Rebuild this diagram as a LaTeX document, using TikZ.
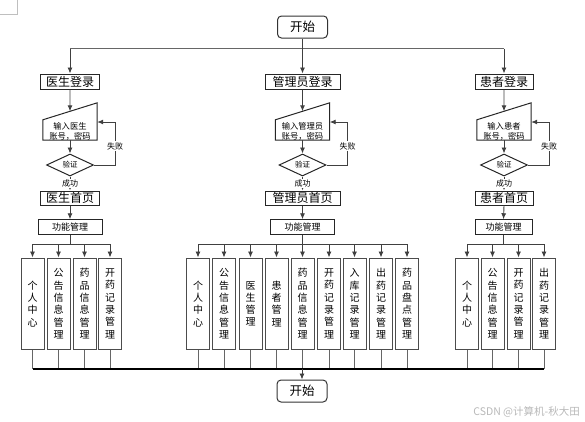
\documentclass[tikz,border=0pt]{standalone}
\usepackage{fontspec}
\setmainfont{Noto Sans CJK SC}
\usetikzlibrary{arrows.meta,calc,shapes.geometric}
\begin{document}
\begin{tikzpicture}[x=1pt,y=-1pt,
  ln/.style={draw=black!75, line width=0.9pt},
  arr/.style={ln, -{Latex[length=6pt,width=5pt]}},
  term/.style={draw=black!80, line width=1pt, rounded corners=4pt, minimum width=50pt, minimum height=22pt, inner sep=0pt, font=\fontsize{12.5}{12.5}\selectfont},
  hbox/.style={draw=black!85, line width=1pt, fill=white, minimum height=15pt, inner sep=0pt, font=\fontsize{12}{12}\selectfont},
  fbox/.style={draw=black!85, line width=1pt, fill=white, minimum height=14.5pt, inner sep=0pt, font=\fontsize{9}{9}\selectfont},
  inp/.style={minimum width=54pt, minimum height=37pt, inner sep=0pt},
  inpshape/.style={draw=black!85, line width=1pt},
  inptext/.style={align=center, inner sep=0pt, font=\fontsize{8.3}{10}\selectfont},
  dia/.style={diamond, draw=black!85, line width=1pt, minimum width=47pt, minimum height=22pt, aspect=2.1, inner sep=0pt, font=\fontsize{7.5}{7.5}\selectfont},
  lbl/.style={fill=white, inner sep=1pt, font=\fontsize{8}{8}\selectfont},
  col/.style={draw=black!70, line width=1pt, fill=white, minimum width=23pt, minimum height=91.5pt, inner sep=0pt, align=center, font=\fontsize{10}{12.3}\selectfont},
]
\useasboundingbox (0,0) rectangle (585,421);
\draw[black!25, line width=0.6pt] (17,0) -- (17,14) -- (0,14);

% start
\node[term] (start) at (302.5,27) {开始};

% login boxes
\node[hbox, minimum width=59pt] (lD) at (70,81.5) {医生登录};
\node[hbox, minimum width=75pt] (lM) at (302.5,81.5) {管理员登录};
\node[hbox, minimum width=58pt] (lP) at (504,81.5) {患者登录};

\coordinate (jt) at (302.5,48.5);
\draw[draw=black!60, line width=1.2pt] (lD.north |- jt) -- (lP.north |- jt);
\draw[arr] (start.south) -- (lM.north);
\draw[arr] (lD.north |- jt) -- (lD.north);
\draw[arr] (lP.north |- jt) -- (lP.north);

% input shapes
\foreach \g/\x/\t in {D/70/{输入医生\\账号，密码}, M/302.5/{输入管理员\\账号，密码}, P/504/{输入患者\\账号，密码}}{
  \node[inp] (in\g) at (\x,121.5) {};
  \draw[inpshape] (in\g.south west) -- (in\g.south east) -- (in\g.north east) -- ($(in\g.north west)+(0,17)$) -- cycle;
  \node[inptext] (in\g t) at (\x,131) {\t};
  \coordinate (in\g top) at ($(in\g.north east)!0.5!($(in\g.north west)+(0,17)$)$);
  \node[dia] (d\g) at (\x,165) {验证};
}
\draw[arr] (lD.south) -- (inDtop);
\draw[arr] (lM.south) -- (inMtop);
\draw[arr] (lP.south) -- (inPtop);
\draw[arr] (inD.south) -- (dD.north);
\draw[arr] (inM.south) -- (dM.north);
\draw[arr] (inP.south) -- (dP.north);

% feedback loops
\foreach \g in {D,M,P}{
  \coordinate (fb\g) at ($(in\g.east)+(18,0.5)$);
  \draw[arr] (d\g.east) -| node[lbl, pos=0.72] {失败} (fb\g) -- (fb\g -| in\g.east);
}

% home boxes
\node[hbox, minimum width=59pt, minimum height=14pt] (hD) at (70,198) {医生首页};
\node[hbox, minimum width=75pt, minimum height=14pt] (hM) at (302.5,198) {管理员首页};
\node[hbox, minimum width=58pt, minimum height=14pt] (hP) at (504,198) {患者首页};
\draw[arr] (dD.south) -- node[lbl] {成功} (hD.north);
\draw[arr] (dM.south) -- node[lbl] {成功} (hM.north);
\draw[arr] (dP.south) -- node[lbl] {成功} (hP.north);

% function management
\node[fbox, minimum width=64pt] (fD) at (70,227) {功能管理};
\node[fbox, minimum width=64pt] (fM) at (302.5,227) {功能管理};
\node[fbox, minimum width=57pt] (fP) at (503.5,227) {功能管理};
\draw[arr] (hD.south) -- (fD.north);
\draw[arr] (hM.south) -- (fM.north);
\draw[arr] (hP.south) -- (fP.north);

% columns
\foreach \x/\t [count=\i] in {32.5/{个\\人\\中\\心}, 58.5/{公\\告\\信\\息\\管\\理}, 84.5/{药\\品\\信\\息\\管\\理}, 110/{开\\药\\记\\录\\管\\理}}{
  \node[col] (cD\i) at (\x,303.75) {\t};
}
\foreach \x/\t [count=\i] in {198/{个\\人\\中\\心}, 224/{公\\告\\信\\息\\管\\理}, 250.5/{医\\生\\管\\理}, 276.5/{患\\者\\管\\理}, 302.5/{药\\品\\信\\息\\管\\理}, 329/{开\\药\\记\\录\\管\\理}, 354.5/{入\\库\\记\\录\\管\\理}, 381/{出\\药\\记\\录\\管\\理}, 407/{药\\品\\盘\\点\\管\\理}}{
  \node[col] (cM\i) at (\x,303.75) {\t};
}
\foreach \x/\t [count=\i] in {467/{个\\人\\中\\心}, 492.5/{公\\告\\信\\息\\管\\理}, 518.5/{开\\药\\记\\录\\管\\理}, 544/{出\\药\\记\\录\\管\\理}}{
  \node[col] (cP\i) at (\x,303.75) {\t};
}

\coordinate (br) at (0,244);
\coordinate (bot) at (0,369);
\foreach \g/\n in {D/4, M/9, P/4}{
  \draw[ln] (f\g.south) -- (f\g.south |- br);
  \draw[ln] (c\g1.north |- br) -- (c\g\n.north |- br);
  \foreach \i in {1,...,\n}{
    \draw[arr] (c\g\i.north |- br) -- (c\g\i.north);
    \draw[draw=black!60, line width=0.9pt] (c\g\i.south) -- (c\g\i.south |- bot);
  }
}
\draw[black, line width=1.5pt] (cD1.south |- bot) -- (cP4.south |- bot);

% end
\node[term] (end) at (302,391) {开始};
\draw[arr] (end.north |- bot) -- (end.north);

% watermark
\node[anchor=east, text=black!28, inner sep=0pt, font=\fontsize{10.5}{10.5}\selectfont] (wm) at (580,412) {CSDN @计算机-秋大田};
\end{tikzpicture}
\end{document}
